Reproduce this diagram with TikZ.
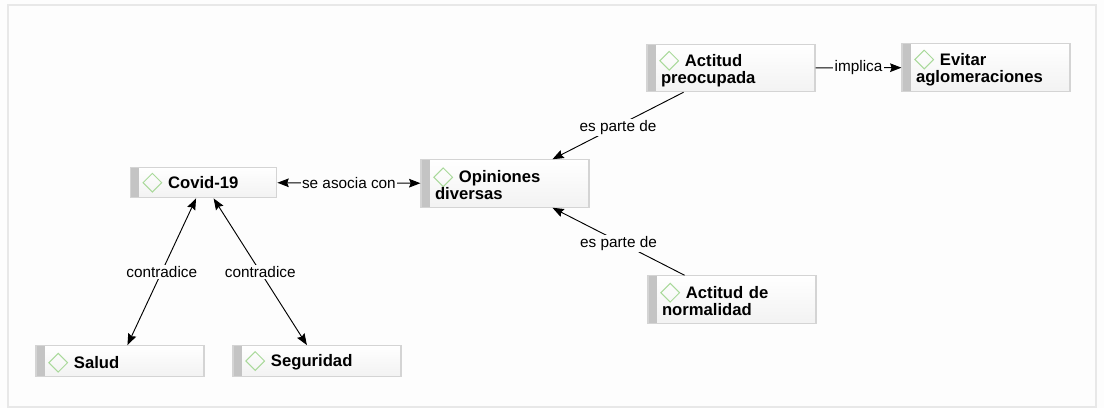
\documentclass[tikz,border=0pt]{standalone}
\usepackage{fontspec}
\setmainfont{Liberation Sans}
\usetikzlibrary{arrows.meta,calc}
\definecolor{barGrey}{HTML}{C4C4C4}
\definecolor{boxEdge}{HTML}{D4D4D4}
\definecolor{diamondGreen}{HTML}{A9D99A}
\definecolor{frameGrey}{HTML}{E8E8E8}
\definecolor{pageBg}{HTML}{FDFDFD}
\newcommand{\dia}{\smash{\tikz[baseline=-0.65ex,x=1pt,y=1pt]{\path[use as bounding box] (-7,-1) rectangle (7,1);\draw[diamondGreen,line width=0.75pt,line join=miter] (-7,0)--(0,7)--(7,0)--(0,-7)--cycle;}}}
\tikzset{
  x=0.75pt,y=-0.75pt,
  concept/.style={rectangle,draw=boxEdge,line width=0.9pt,anchor=center,
    top color=white,bottom color=black!5,
    font=\fontsize{12.5pt}{12.75pt}\selectfont\bfseries,align=left,
    text width=#1,inner xsep=0pt,inner ysep=0pt,
    path picture={
      \fill[barGrey] (path picture bounding box.south west) rectangle
        ($(path picture bounding box.north west)+(6.6pt,0)$);
    }},
  conceptbox/.style={concept=105pt,minimum width=126pt,minimum height=#1},
  link/.style={draw=black,line width=0.7pt,-{Stealth[length=8.5pt,width=6.5pt,inset=1.2pt]}},
  biglink/.style={draw=black,line width=0.7pt,{Stealth[length=8.5pt,width=6.5pt,inset=1.2pt]}-{Stealth[length=8.5pt,width=6.5pt,inset=1.2pt]}},
  tag/.style={fill=pageBg,inner xsep=1pt,inner ysep=1.2pt,font=\fontsize{11.5pt}{13pt}\selectfont}
}
\newcommand{\lead}[1]{\rule{0pt}{#1}\hspace*{-0.85pt}\dia\hspace{4.8pt}}
\begin{document}
\begin{tikzpicture}
\useasboundingbox (0,0) rectangle (1104,408);
\fill[pageBg] (0,0) rectangle (1104,408);
\draw[frameGrey,line width=1pt] (8,5) rectangle (1096,407);

\node[conceptbox=35.5pt] (ap) at (731,68) {\lead{13.1pt}Actitud\\preocupada};
\node[conceptbox=35.5pt] (ev) at (986,67.5) {\lead{12.1pt}Evitar\\aglomeraciones};
\node[conceptbox=35.5pt] (op) at (505,183.5) {\lead{12.1pt}Opiniones\\diversas};
\node[conceptbox=35.5pt] (no) at (732,299.5) {\lead{11.3pt}Actitud de\\normalidad};
\node[concept=89pt,minimum width=110pt,minimum height=23pt] (co) at (203.5,182.5) {\lead{0pt}Covid-19};
\node[conceptbox=23pt] (sa) at (120,361) {\lead{11.3pt}Salud};
\node[conceptbox=23pt] (se) at (317,361) {\lead{11.3pt}Seguridad};

\draw[link] (ap) -- node[tag,yshift=-1.2pt] (t1) {es parte de} (op);
\draw[link] (no) -- node[tag,yshift=-1.6pt] (t2) {es parte de} (op);
\draw[biglink] (co) -- node[tag] (t3) {contradice} (sa);
\draw[biglink] (co) -- node[tag] (t4) {contradice} (se);
\draw[biglink] (co) -- node[tag] (t5) {se asocia con} (op);
\draw[link] (ap) -- node[tag] (t6) {implica} (ev);
\end{tikzpicture}
\end{document}
